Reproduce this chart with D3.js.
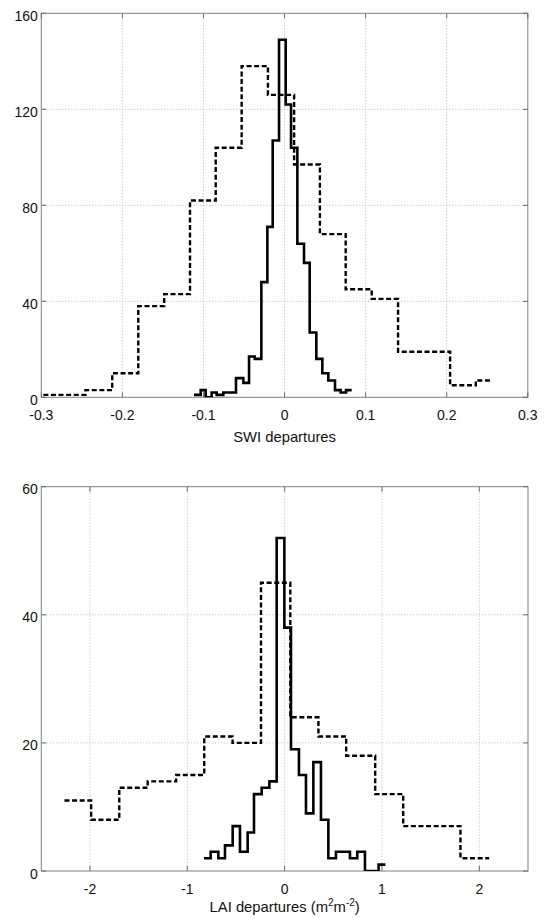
<!DOCTYPE html>
<html><head><meta charset="utf-8">
<script src="https://cdn.jsdelivr.net/npm/d3@7"></script>
<style>body{margin:0;background:#fff}svg{display:block}</style>
</head><body>
<svg id="c" width="544" height="918"></svg>
<script>
// ---------- Top panel: SWI departures ----------
const swiXTicks = [-0.3, -0.2, -0.1, 0, 0.1, 0.2, 0.3];
const swiXTickLabels = ["-0.3", "-0.2", "-0.1", "0", "0.1", "0.2", "0.3"];
const swiYTicks = [0, 40, 80, 120, 160];
const swiYTickLabels = ["0", "40", "80", "120", "160"];
// solid stairs (step positions and counts)
const swiSolidX = [-0.1117, -0.1034, -0.0973, -0.0899, -0.0837, -0.0755, -0.0677, -0.0599, -0.0508, -0.0438, -0.0368, -0.0286, -0.0212, -0.0146, -0.0068, 0.0014, 0.0080, 0.0158, 0.0240, 0.0310, 0.0392, 0.0466, 0.0540, 0.0622, 0.0692, 0.0758, 0.0828];
const swiSolidY = [1, 3, 0, 2, 1, 2, 2, 8, 6, 17, 16, 48, 71, 107, 149, 122, 104, 64, 56, 27, 16, 10, 7, 3, 2, 3, 3];
// dashed stairs
const swiDashX = [-0.2975, -0.2455, -0.2125, -0.1804, -0.1484, -0.1166, -0.0849, -0.0529, -0.0205, 0.0118, 0.0436, 0.0754, 0.1075, 0.1400, 0.1720, 0.2042, 0.2359, 0.2549];
const swiDashY = [1, 3, 10, 38, 43, 82, 104, 138, 126, 97, 68, 45, 41, 19, 19, 5, 7, 7];

// ---------- Bottom panel: LAI departures ----------
const laiXTicks = [-2, -1, 0, 1, 2];
const laiXTickLabels = ["-2", "-1", "0", "1", "2"];
const laiYTicks = [0, 20, 40, 60];
const laiYTickLabels = ["0", "20", "40", "60"];
const laiSolidX = [-0.828, -0.760, -0.681, -0.613, -0.534, -0.459, -0.380, -0.315, -0.236, -0.157, -0.082, -0.003, 0.065, 0.147, 0.219, 0.295, 0.373, 0.449, 0.527, 0.600, 0.671, 0.746, 0.825, 0.900, 0.965, 1.035];
const laiSolidY = [2, 3, 2, 4, 7, 3, 6, 12, 13, 14, 52, 38, 19, 15, 9, 17, 8, 2, 3, 3, 2, 3, 0, 0, 1, 1];
const laiDashX = [-2.262, -1.988, -1.699, -1.407, -1.115, -0.826, -0.535, -0.243, 0.058, 0.347, 0.632, 0.930, 1.218, 1.512, 1.806, 2.101];
const laiDashY = [11, 8, 13, 14, 15, 21, 20, 45, 24, 21, 18, 12, 7, 7, 2, 2];

const svg = d3.select("#c");
const FONT = "'Liberation Sans', Arial, Helvetica, sans-serif";

function panel(cfg) {
  const {id, left, right, top, bottom, xDomain, yDomain, xTicks, xLabels, yTicks, yLabels,
         solidX, solidY, dashX, dashY, label} = cfg;
  const x = d3.scaleLinear().domain(xDomain).range([left, right]);
  const y = d3.scaleLinear().domain(yDomain).range([bottom, top]);
  const g = svg.append("g");

  g.append("clipPath").attr("id", id).append("rect")
    .attr("x", left).attr("y", top).attr("width", right - left).attr("height", bottom - top);

  // grid
  const grid = g.append("g").attr("stroke", "#b8b8b8").attr("stroke-width", 1).attr("stroke-dasharray", "1,2");
  grid.selectAll(".gx").data(xTicks.filter(t => x(t) > left + 1 && x(t) < right - 1)).join("line")
    .attr("x1", d => x(d)).attr("x2", d => x(d)).attr("y1", top).attr("y2", bottom);
  grid.selectAll(".gy").data(yTicks.filter(t => y(t) > top + 1 && y(t) < bottom - 1)).join("line")
    .attr("y1", d => y(d)).attr("y2", d => y(d)).attr("x1", left).attr("x2", right);

  // box
  g.append("rect").attr("x", left).attr("y", top).attr("width", right - left).attr("height", bottom - top)
    .attr("fill", "none").attr("stroke", "#7f7f7f").attr("stroke-width", 1);

  // inward ticks on all four sides
  const tk = g.append("g").attr("stroke", "#6a6a6a").attr("stroke-width", 1);
  const tl = 5;
  xTicks.forEach(t => {
    tk.append("line").attr("x1", x(t)).attr("x2", x(t)).attr("y1", bottom).attr("y2", bottom - tl);
    tk.append("line").attr("x1", x(t)).attr("x2", x(t)).attr("y1", top).attr("y2", top + tl);
  });
  yTicks.forEach(t => {
    tk.append("line").attr("y1", y(t)).attr("y2", y(t)).attr("x1", left).attr("x2", left + tl);
    tk.append("line").attr("y1", y(t)).attr("y2", y(t)).attr("x1", right).attr("x2", right - tl);
  });

  // tick labels
  g.selectAll(".xl").data(xTicks).join("text")
    .attr("x", d => x(d)).attr("y", bottom + 22.5)
    .attr("text-anchor", "middle").attr("font-family", FONT).attr("font-size", 14).attr("fill", "#111")
    .text((d, i) => xLabels[i]);
  g.selectAll(".yl").data(yTicks).join("text")
    .attr("x", left - 3.5).attr("y", d => y(d) + 7.5)
    .attr("text-anchor", "end").attr("font-family", FONT).attr("font-size", 14).attr("fill", "#111")
    .text((d, i) => yLabels[i]);

  // lines (stairs)
  const line = d3.line().x(d => x(d[0])).y(d => y(d[1])).curve(d3.curveStepAfter);
  const lines = g.append("g").attr("clip-path", `url(#${id})`);
  lines.append("path").datum(dashX.map((v, i) => [v, dashY[i]]))
    .attr("d", line).attr("fill", "none").attr("stroke", "#000").attr("stroke-width", 2.4)
    .attr("stroke-dasharray", "5,2.6");
  lines.append("path").datum(solidX.map((v, i) => [v, solidY[i]]))
    .attr("d", line).attr("fill", "none").attr("stroke", "#000").attr("stroke-width", 2.6)
    .attr("stroke-linejoin", "miter");

  // axis label
  label(g, (left + right) / 2, bottom);
}

panel({
  id: "clipTop", left: 41.3, right: 527.8, top: 13.3, bottom: 397.3,
  xDomain: [-0.3, 0.3], yDomain: [0, 160],
  xTicks: swiXTicks, xLabels: swiXTickLabels, yTicks: swiYTicks, yLabels: swiYTickLabels,
  solidX: swiSolidX, solidY: swiSolidY, dashX: swiDashX, dashY: swiDashY,
  label: (g, cx, b) => g.append("text").attr("x", cx).attr("y", b + 44.5)
    .attr("text-anchor", "middle").attr("font-family", FONT).attr("font-size", 14.8).attr("fill", "#111")
    .text("SWI departures")
});

panel({
  id: "clipBot", left: 41.3, right: 528, top: 486.7, bottom: 871,
  xDomain: [-2.5, 2.5], yDomain: [0, 60],
  xTicks: laiXTicks, xLabels: laiXTickLabels, yTicks: laiYTicks, yLabels: laiYTickLabels,
  solidX: laiSolidX, solidY: laiSolidY, dashX: laiDashX, dashY: laiDashY,
  label: (g, cx, b) => {
    const t = g.append("text").attr("x", cx).attr("y", b + 41)
      .attr("text-anchor", "middle").attr("font-family", FONT).attr("font-size", 14.8).attr("fill", "#111");
    t.append("tspan").text("LAI departures (m");
    t.append("tspan").attr("font-size", 10).attr("dy", -6).text("2");
    t.append("tspan").attr("dy", 6).text("m");
    t.append("tspan").attr("font-size", 10).attr("dy", -6).text("-2");
    t.append("tspan").attr("dy", 6).text(")");
  }
});
</script>
</body></html>
